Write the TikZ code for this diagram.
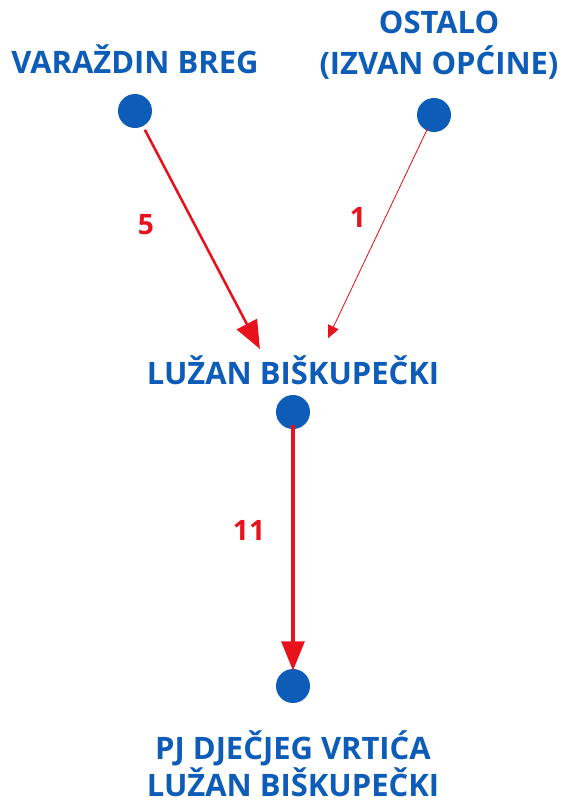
\documentclass[tikz,border=0pt]{standalone}
\usepackage{fontspec}
\setmainfont{Open Sans}
\usetikzlibrary{arrows.meta}

\definecolor{mapblue}{RGB}{12,92,184}
\definecolor{flowred}{RGB}{232,18,28}

\tikzset{
  place/.style={circle, fill=mapblue, inner sep=0pt, minimum size=34*0.025cm},
  placename/.style={text=mapblue, font=\bfseries\fontsize{22}{29.5}\selectfont, align=center, inner sep=0pt},
  flow/.style={draw=flowred, -{Triangle[length=20pt,width=16pt]}},
  flownum/.style={text=flowred, font=\bfseries\fontsize{20}{24}\selectfont, inner sep=0pt}
}

\begin{document}
\begin{tikzpicture}[x=0.025cm,y=-0.025cm] % 1 unit = 1 px of the reference
\useasboundingbox (0,0) rectangle (566,805);

% places
\node[place] (breg) at (135,111) {};
\node[place] (ostalo) at (434,115) {};
\node[place] (luzan) at (293,412) {};
\node[place] (vrtic) at (293,686) {};

% names
\node[placename] (bregname) at (135,59) {VARAŽDIN BREG};
\node[placename] (ostaloname) at (439,45) {OSTALO\\(IZVAN OPĆINE)};
\node[placename] (luzanname) at (293,370) {LUŽAN BIŠKUPEČKI};
\node[placename, font=\bfseries\fontsize{22}{26.5}\selectfont] (vrticname) at (293,764) {PJ DJEČJEG VRTIĆA\\LUŽAN BIŠKUPEČKI};

% flows
\draw[flow, line width=1.8pt, shorten <=0.53cm, shorten >=1.78cm] (breg.center) -- (luzan.center);
\draw[flow, line width=0.6pt, -{Triangle[length=9pt,width=8pt]}, shorten <=0.37cm, shorten >=2.04cm] (ostalo.center) -- (luzan.center);
\draw[flow, line width=3.2pt, -{Triangle[length=21pt,width=16pt]}, shorten <=0.33cm, shorten >=0.38cm] (luzan.center) -- (vrtic.center);

% numbers
\node[flownum] (n5) at (146,225) {5};
\node[flownum] (n1) at (358,217) {1};
\node[flownum] (n11) at (249,530) {11};
\end{tikzpicture}
\end{document}
